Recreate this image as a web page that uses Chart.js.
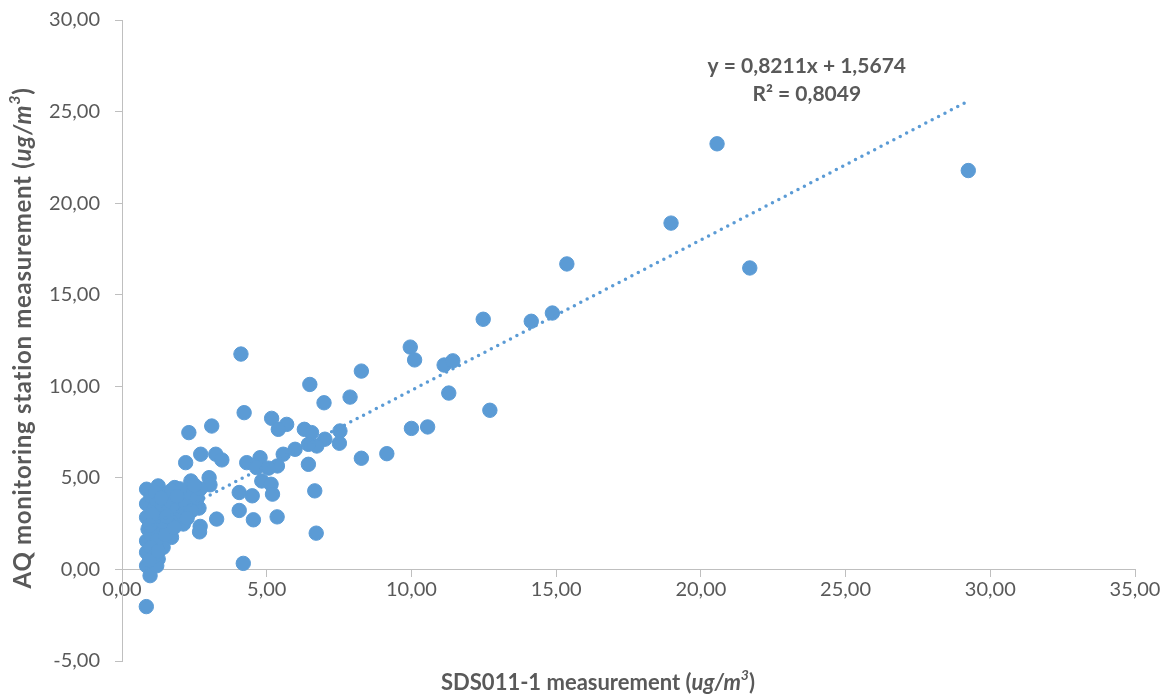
<!DOCTYPE html>
<html>
<head>
<meta charset="utf-8">
<script src="https://cdn.jsdelivr.net/npm/chart.js@4.4.0/dist/chart.umd.min.js"></script>
<style>
  html, body { margin: 0; padding: 0; background: #fff; }
  #wrap { width: 1168px; height: 697px; }
</style>
</head>
<body>
<div id="wrap"><canvas id="chart" width="1168" height="697"></canvas></div>
<script>
// SDS011-1 readings (x) against AQ station readings (y)
var sdsValues = [
  20.56, 29.24, 18.97, 15.37, 21.69, 14.14, 14.87, 12.48,
  9.96, 10.11, 11.13, 11.43, 11.29, 12.71, 10.00, 10.56, 8.27, 8.27, 9.15,
  6.49, 6.98, 7.88, 4.22, 5.17, 5.69, 5.40, 6.30, 6.55, 7.53, 7.01, 7.51, 6.73, 6.44,
  5.98, 5.57, 5.37, 4.77, 4.31, 4.65, 5.06, 6.44, 4.83, 5.15, 5.20, 4.50, 4.05, 6.66,
  4.05, 4.54, 5.36, 6.71, 4.11, 4.19,
  2.31, 3.10, 2.20, 2.72, 3.24, 3.45, 3.01, 3.04, 2.66, 3.27, 2.70, 2.68, 2.66,
  0.85, 0.85, 0.85, 0.90, 0.85, 0.85, 0.85, 0.97, 0.84,
  1.25, 1.82, 2.38, 2.52, 2.12, 1.71, 1.42, 1.25, 1.20,
  1.00, 1.10, 1.20, 1.30, 1.40, 1.50, 1.60, 1.70, 1.80, 1.90, 2.00, 2.10, 2.20, 2.30, 2.40,
  2.00, 1.60, 1.30, 1.10, 1.00, 1.20, 1.00, 1.10, 0.95, 1.50, 1.40, 1.80, 1.05, 1.15,
  1.70, 2.60, 2.70, 2.50, 1.35, 0.95, 1.25, 1.55, 1.90, 2.25
];
var stationValues = [
  23.24, 21.78, 18.91, 16.68, 16.46, 13.55, 14.00, 13.66,
  12.14, 11.44, 11.16, 11.39, 9.63, 8.69, 7.70, 7.78, 10.83, 6.07, 6.32,
  10.10, 9.10, 9.41, 8.56, 8.25, 7.92, 7.65, 7.65, 7.47, 7.56, 7.11, 6.89, 6.74, 6.83,
  6.56, 6.29, 5.65, 6.10, 5.83, 5.56, 5.53, 5.74, 4.83, 4.65, 4.11, 4.02, 4.20, 4.29,
  3.22, 2.71, 2.87, 1.98, 11.76, 0.33,
  7.47, 7.83, 5.83, 6.29, 6.29, 5.98, 5.01, 4.62, 4.38, 2.75, 2.35, 2.05, 3.35,
  4.38, 3.58, 2.84, 2.20, 1.56, 0.93, 0.20, -0.34, -2.03,
  4.56, 4.47, 4.83, 3.40, 2.48, 1.75, 1.20, 0.57, 0.20,
  4.00, 3.30, 3.80, 2.90, 3.50, 4.10, 3.20, 3.70, 2.80, 3.30, 3.90, 3.00, 3.60, 4.20, 3.20,
  4.40, 2.50, 2.20, 2.60, 1.90, 1.60, 1.20, 0.70, 0.50, 1.90, 2.60, 2.30, 3.00, 4.20,
  4.30, 3.90, 4.40, 4.60, 3.90, 2.40, 1.00, 2.90, 4.00, 2.80
];

// linear trendline as shown on the chart
var trendX = [0.84, 29.24];
var trendY = [2.257, 25.576];
var equationText = "y = 0,8211x + 1,5674";
var r2Text = "R\u00b2 = 0,8049";

var blue = "#5B9BD5";
var textGrey = "#595959";
var axisGrey = "#BFBFBF";
var fontFamily = "Lato, 'Open Sans', sans-serif";

function commaFormat(v) {
  return v.toFixed(2).replace(".", ",");
}

function toPoints(xs, ys) {
  var pts = [];
  for (var i = 0; i < xs.length; i++) {
    pts.push({ x: xs[i], y: ys[i] });
  }
  return pts;
}

// draws a line of text made of parts with different styles, centred on (cx, cy)
function drawRichText(ctx, parts, cx, cy, size, rotate, spacing) {
  var total = 0;
  var i, p, f;
  ctx.save();
  ctx.letterSpacing = (spacing || 0) + "px";
  for (i = 0; i < parts.length; i++) {
    p = parts[i];
    f = (p.italic ? "italic " : "") + "bold " + (p.sup ? Math.round(size * 0.65) : size) + "px " + fontFamily;
    ctx.font = f;
    p.font = f;
    p.w = ctx.measureText(p.t).width;
    total += p.w;
  }
  ctx.translate(cx, cy);
  if (rotate) ctx.rotate(-Math.PI / 2);
  ctx.fillStyle = textGrey;
  ctx.textBaseline = "middle";
  ctx.textAlign = "left";
  var x = -total / 2;
  for (i = 0; i < parts.length; i++) {
    p = parts[i];
    ctx.font = p.font;
    ctx.fillText(p.t, x, p.sup ? -size * 0.33 : 0);
    x += p.w;
  }
  ctx.restore();
}

var labelsPlugin = {
  id: "labels",
  afterDraw: function(chart) {
    var ctx = chart.ctx;
    var xs = chart.scales.x;
    var ys = chart.scales.y;

    // trendline equation
    ctx.save();
    ctx.fillStyle = textGrey;
    ctx.font = "bold 21px " + fontFamily;
    ctx.textAlign = "center";
    ctx.textBaseline = "middle";
    ctx.fillText(equationText, xs.getPixelForValue(23.66), ys.getPixelForValue(27.45));
    ctx.fillText(r2Text, xs.getPixelForValue(23.66), ys.getPixelForValue(25.92));
    ctx.restore();

    drawRichText(ctx, [
      { t: "SDS011-1 measurement (" },
      { t: "ug/m", italic: true },
      { t: "3", italic: true, sup: true },
      { t: ")" }
    ], 598, 683, 22, false, 0);

    drawRichText(ctx, [
      { t: "AQ monitoring station measurement (" },
      { t: "ug/m", italic: true },
      { t: "3", italic: true, sup: true },
      { t: ")" }
    ], 23, 338, 24, true, 0.7);
  }
};

new Chart(document.getElementById("chart"), {
  type: "scatter",
  data: {
    datasets: [
      {
        type: "line",
        label: "Linear trend",
        data: toPoints(trendX, trendY),
        borderColor: blue,
        borderWidth: 3.5,
        borderDash: [0, 7.2],
        borderCapStyle: "round",
        pointRadius: 0,
        fill: false,
        order: 0
      },
      {
        label: "Measurements",
        data: toPoints(sdsValues, stationValues),
        backgroundColor: blue,
        borderColor: blue,
        borderWidth: 1,
        pointRadius: 7.2,
        order: 1
      }
    ]
  },
  options: {
    responsive: false,
    animation: false,
    layout: { padding: { top: 20, right: 33, bottom: 36, left: 0 } },
    plugins: {
      legend: { display: false },
      tooltip: { enabled: false }
    },
    scales: {
      x: {
        type: "linear",
        min: 0,
        max: 35,
        position: { y: 0 },
        border: { color: axisGrey, width: 1 },
        grid: { drawOnChartArea: false, drawTicks: true, tickLength: 7, color: axisGrey },
        ticks: {
          stepSize: 5,
          padding: 1,
          color: textGrey,
          font: { family: fontFamily, size: 20 },
          maxRotation: 0,
          callback: function(v) { return commaFormat(v); }
        }
      },
      y: {
        type: "linear",
        min: -5,
        max: 30,
        position: "left",
        afterFit: function(scale) {
          scale.width = 122;
          scale.paddingTop = 0;
          scale.paddingBottom = 0;
        },
        border: { color: axisGrey, width: 1 },
        grid: { drawOnChartArea: false, drawTicks: true, tickLength: 7, color: axisGrey },
        ticks: {
          stepSize: 5,
          padding: 15,
          color: textGrey,
          font: { family: fontFamily, size: 20 },
          callback: function(v) { return commaFormat(v); }
        }
      }
    }
  },
  plugins: [labelsPlugin]
});
</script>
</body>
</html>
